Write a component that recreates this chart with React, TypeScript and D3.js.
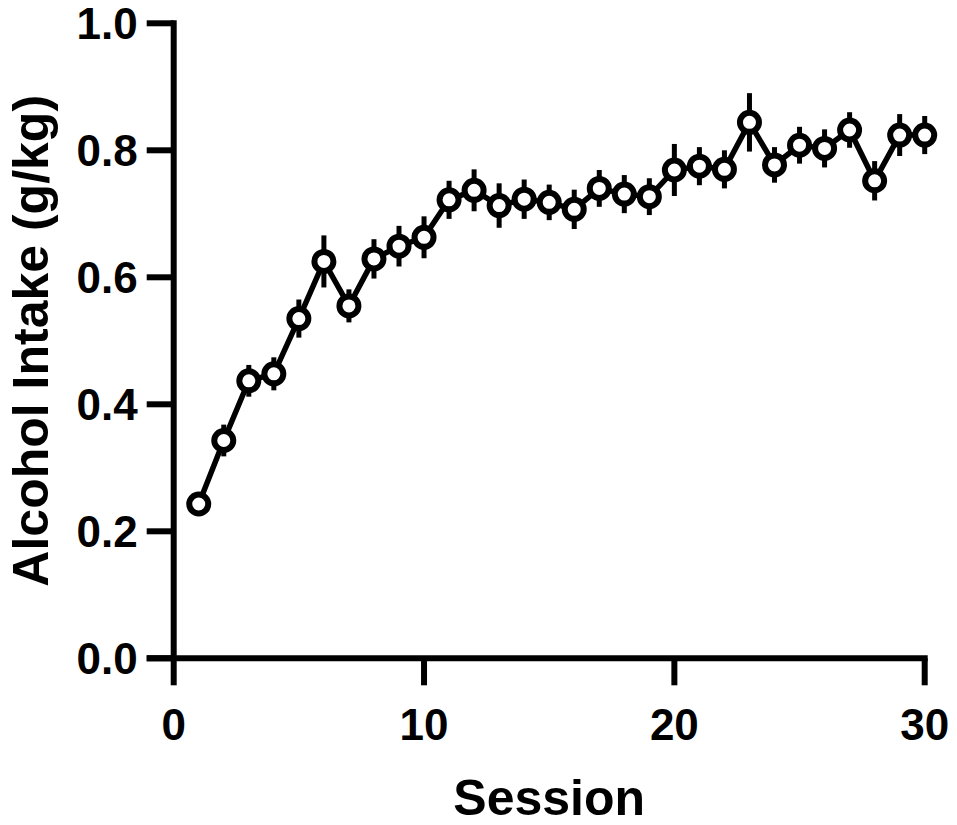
import React, { useEffect } from "react";
import * as d3 from "d3";

const sessions = [1,2,3,4,5,6,7,8,9,10,11,12,13,14,15,16,17,18,19,20,21,22,23,24,25,26,27,28,29,30];
const intakeMean = [0.243,0.343,0.437,0.448,0.535,0.625,0.555,0.629,0.649,0.663,0.722,0.737,0.713,0.723,0.718,0.707,0.740,0.731,0.727,0.769,0.775,0.770,0.844,0.777,0.808,0.803,0.832,0.752,0.824,0.824];
const intakeSem = [0.012,0.025,0.025,0.026,0.030,0.041,0.026,0.031,0.032,0.033,0.030,0.033,0.035,0.031,0.028,0.031,0.029,0.030,0.029,0.041,0.030,0.030,0.046,0.028,0.029,0.030,0.028,0.031,0.033,0.030];
const xTicks = [0, 10, 20, 30];
const yTicks = [0, 0.2, 0.4, 0.6, 0.8, 1.0];

const FONT = "'Liberation Sans', Arial, Helvetica, sans-serif";

export default function App() {
  useEffect(() => {
    document.body.style.margin = "0";
  }, []);

  const x = d3.scaleLinear().domain([0, 30]).range([173.7, 924.7]);
  const y = d3.scaleLinear().domain([0, 1]).range([658.3, 23.3]);
  const x0 = x(0);
  const y0 = y(0);
  const tickLen = 27;
  const axisW = 6;

  const line = d3
    .line<number>()
    .x((_, i) => x(sessions[i]))
    .y((d) => y(d));

  return (
    <svg width={957} height={825} style={{ display: "block", background: "#fff" }}>
      {/* y axis */}
      <line x1={x0} x2={x0} y1={y(1) - axisW / 2} y2={y0} stroke="#000" strokeWidth={axisW} />
      {yTicks.map((t) => (
        <g key={"y" + t}>
          <line x1={x0 - tickLen} x2={x0} y1={y(t)} y2={y(t)} stroke="#000" strokeWidth={axisW} />
          <text
            x={x0 - tickLen - 9}
            y={y(t) + 15.7}
            textAnchor="end"
            fontFamily={FONT}
            fontWeight="bold"
            fontSize={44}
            fill="#000"
          >
            {d3.format(".1f")(t)}
          </text>
        </g>
      ))}
      {/* x axis */}
      <line x1={x0 - tickLen} x2={x(30) + axisW / 2} y1={y0} y2={y0} stroke="#000" strokeWidth={axisW} />
      {xTicks.map((t) => (
        <g key={"x" + t}>
          <line x1={x(t)} x2={x(t)} y1={y0} y2={y0 + tickLen} stroke="#000" strokeWidth={axisW} />
          <text
            x={x(t)}
            y={740}
            textAnchor="middle"
            fontFamily={FONT}
            fontWeight="bold"
            fontSize={44}
            fill="#000"
          >
            {t}
          </text>
        </g>
      ))}
      {/* axis titles */}
      <text
        x={(x(0) + x(30)) / 2}
        y={815}
        textAnchor="middle"
        fontFamily={FONT}
        fontWeight="bold"
        fontSize={50}
        fill="#000"
      >
        Session
      </text>
      <text
        transform={`translate(48, ${(y(0) + y(1)) / 2}) rotate(-90)`}
        textAnchor="middle"
        fontFamily={FONT}
        fontWeight="bold"
        fontSize={50}
        fill="#000"
      >
        Alcohol Intake (g/kg)
      </text>
      {/* error bars */}
      {intakeMean.map((m, i) => (
        <line
          key={"e" + i}
          x1={x(sessions[i])}
          x2={x(sessions[i])}
          y1={y(m + intakeSem[i])}
          y2={y(m - intakeSem[i])}
          stroke="#000"
          strokeWidth={5}
        />
      ))}
      {/* line */}
      <path d={line(intakeMean) || ""} fill="none" stroke="#000" strokeWidth={5.5} strokeLinejoin="miter" />
      {/* markers */}
      {intakeMean.map((m, i) => (
        <circle
          key={"c" + i}
          cx={x(sessions[i])}
          cy={y(m)}
          r={9.5}
          fill="#fff"
          stroke="#000"
          strokeWidth={6}
        />
      ))}
    </svg>
  );
}
